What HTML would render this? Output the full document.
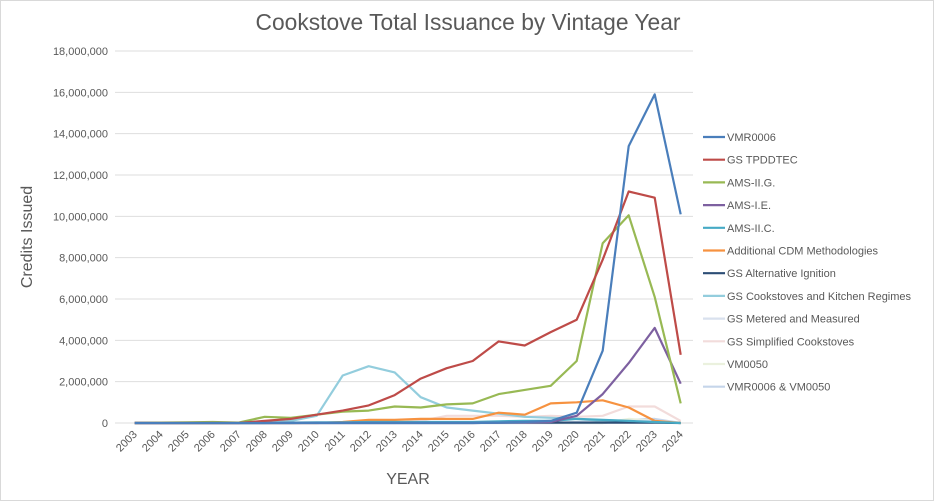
<!DOCTYPE html>
<html><head><meta charset="utf-8"><style>
body{margin:0;background:#fff;}
svg{display:block;font-family:"Liberation Sans",sans-serif;}
</style></head><body>
<svg id="c" width="936" height="502" viewBox="0 0 936 502" xmlns="http://www.w3.org/2000/svg">
<rect x="0.5" y="0.5" width="933" height="500" fill="#fff" stroke="#d9d9d9"/>
<text x="468" y="30" text-anchor="middle" font-size="23" fill="#595959" textLength="425" lengthAdjust="spacingAndGlyphs">Cookstove Total Issuance by Vintage Year</text>
<g id="grid"></g>
<text transform="translate(32,237) rotate(-90)" text-anchor="middle" font-size="16" fill="#595959">Credits Issued</text>
<text x="408" y="484" text-anchor="middle" font-size="16" fill="#595959">YEAR</text>
<g id="series"></g>
<g id="legend"></g>
</svg>
<script>
const NS="http://www.w3.org/2000/svg";
function el(t,a,p,txt){const e=document.createElementNS(NS,t);for(const k in a)e.setAttribute(k,a[k]);if(txt!==undefined)e.textContent=txt;p.appendChild(e);return e;}
const g=document.getElementById('grid');
const y0=423,yTop=51,x0=134.7,dx=26,xL=115,xR=693;
const Y=v=>y0-(v/18)*(y0-yTop);
for(let i=0;i<=9;i++){const y=Y(i*2);
el('line',{x1:xL,x2:xR,y1:y,y2:y,stroke:'#dedede','stroke-width':1},g);
el('text',{x:108,y:y+4,'text-anchor':'end','font-size':11,fill:'#595959'},g,i==0?'0':(i*2000000).toLocaleString('en-US'));}
for(let i=0;i<22;i++){const x=x0+i*dx;
el('text',{transform:`translate(${x+3},${y0+12}) rotate(-45)`,'text-anchor':'end','font-size':11,fill:'#595959'},g,String(2003+i));}
const S=[
['VMR0006','#4a7ebb',[0,0,0,0,0,0,0,0,0,0,0,0,0,0,0.02,0.05,0.1,0.5,3.5,13.4,15.9,10.1]],
['GS TPDDTEC','#be4b48',[0,0,0,0,0,0.1,0.2,0.4,0.6,0.85,1.35,2.15,2.65,3.0,3.95,3.75,4.4,5.0,7.9,11.2,10.9,3.3]],
['AMS-II.G.','#98b954',[0,0.02,0.03,0.05,0.02,0.3,0.25,0.4,0.55,0.6,0.8,0.75,0.9,0.95,1.4,1.6,1.8,3.0,8.7,10.05,6.1,0.95]],
['AMS-I.E.','#7d60a0',[0,0,0,0,0,0,0,0,0,0,0,0,0,0,0.02,0.03,0.05,0.35,1.4,2.9,4.6,1.9]],
['AMS-II.C.','#46aac5',[0,0,0,0,0,0,0.02,0.03,0.03,0.05,0.05,0.05,0.05,0.05,0.08,0.1,0.1,0.2,0.15,0.1,0.05,0]],
['Additional CDM Methodologies','#f69240',[0,0,0,0,0,0,0,0,0.05,0.15,0.15,0.2,0.2,0.2,0.5,0.4,0.95,1.0,1.1,0.75,0.1,0]],
['GS Alternative Ignition','#2c4d75',[0,0,0,0,0,0,0,0.01,0.01,0.01,0.01,0.01,0.01,0.02,0.02,0.02,0.02,0.02,0.02,0.02,0.02,0]],
['GS Cookstoves and Kitchen Regimes','#93cddd',[0,0,0,0,0,0,0.1,0.35,2.3,2.75,2.45,1.25,0.75,0.6,0.45,0.3,0.25,0.2,0.1,0.05,0.05,0]],
['GS Metered and Measured','#d9e1ee',[0,0,0,0,0,0,0,0,0,0,0,0,0,0,0,0,0,0.05,0.1,0.1,0.1,0]],
['GS Simplified Cookstoves','#f2dcdb',[0,0,0,0,0,0,0,0,0,0,0,0.1,0.35,0.35,0.35,0.3,0.35,0.3,0.35,0.8,0.8,0.1]],
['VM0050','#ebf1de',[0,0,0,0,0,0,0,0,0,0,0,0,0,0,0,0,0,0,0,0.2,0.1,0]],
['VMR0006 &  VM0050','#c5d5ea',[0,0,0,0,0,0,0,0,0,0,0,0,0,0,0,0,0,0,0,0.15,0.2,0]]];
const sg=document.getElementById('series'),lg=document.getElementById('legend');
for(let k=S.length-1;k>=0;k--){const [n,c,d]=S[k];
el('polyline',{points:d.map((v,i)=>(x0+i*dx).toFixed(1)+','+Y(v).toFixed(1)).join(' '),fill:'none',stroke:c,'stroke-width':2.2,'stroke-linejoin':'round'},sg);}
S.forEach(([n,c],k)=>{const y=137+k*22.7;
el('line',{x1:703,x2:725,y1:y,y2:y,stroke:c,'stroke-width':2.2},lg);
el('text',{x:727,y:y+4,'font-size':11,fill:'#595959'},lg,n);});
</script>
</body></html>
